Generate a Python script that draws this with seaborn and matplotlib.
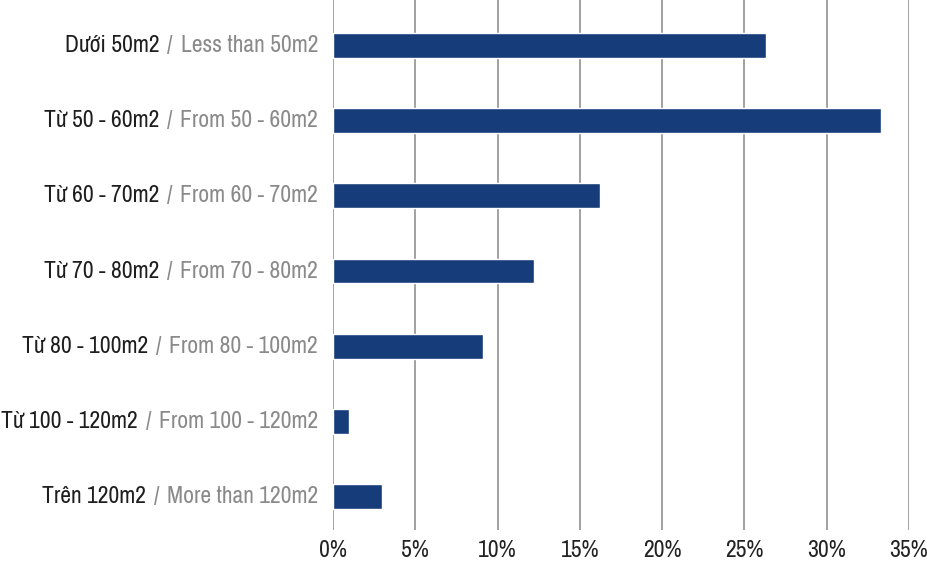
import matplotlib
matplotlib.use("Agg")
import matplotlib.pyplot as plt
import seaborn as sns
import pandas as pd

vi_labels = ["Dưới 50m2", "Từ 50 - 60m2", "Từ 60 - 70m2", "Từ 70 - 80m2",
             "Từ 80 - 100m2", "Từ 100 - 120m2", "Trên 120m2"]
en_labels = ["Less than 50m2", "From 50 - 60m2", "From 60 - 70m2", "From 70 - 80m2",
             "From 80 - 100m2", "From 100 - 120m2", "More than 120m2"]
shares = [26.3, 33.3, 16.2, 12.2, 9.1, 1.0, 3.0]
x_ticks = [0, 5, 10, 15, 20, 25, 30, 35]

sns.set_theme(style="white")
plt.rcParams["font.family"] = ["Archivo Narrow", "Liberation Sans Narrow", "DejaVu Sans"]

df = pd.DataFrame({"cat": vi_labels, "share": shares})

fig = plt.figure(figsize=(9.27, 5.68), dpi=100)
ax = fig.add_axes([333 / 927, 1 - 530 / 568, (909 - 333) / 927, 530 / 568])

sns.barplot(data=df, y="cat", x="share", orient="h", color="#173c7a",
            saturation=1, width=0.33, ax=ax, zorder=3)

ax.set_xlim(0, 35)
ax.set_ylim(6.44, -0.6)
ax.set_xticks(x_ticks)
ax.set_xticklabels([f"{t}%" for t in x_ticks], fontsize=17, color="#222222")
ax.tick_params(axis="x", length=0, pad=7)
ax.grid(axis="x", color="#9a9a9a", linewidth=1.3, zorder=0)
ax.grid(axis="y", visible=False)
for s in ax.spines.values():
    s.set_visible(False)
ax.set_xlabel("")
ax.set_ylabel("")
ax.set_yticks(range(len(vi_labels)))
ax.set_yticklabels([""] * len(vi_labels))
ax.tick_params(axis="y", length=0)

# two-tone category labels: Vietnamese in dark, English in gray
for i, (vi, en) in enumerate(zip(vi_labels, en_labels)):
    t_en = ax.annotate(en, xy=(0, i), xycoords=("axes fraction", "data"),
                       xytext=(-15, 0), textcoords="offset pixels",
                       ha="right", va="center", fontsize=17, color="#8a8a8a")
    t_sl = ax.annotate("/", xy=(0, 0.5), xycoords=t_en,
                       xytext=(-8, 0), textcoords="offset pixels",
                       ha="right", va="center", fontsize=17, color="#8a8a8a")
    ax.annotate(vi, xy=(0, 0.5), xycoords=t_sl,
                xytext=(-8, 0), textcoords="offset pixels",
                ha="right", va="center", fontsize=17, color="#1e1e1e")

fig.savefig("out.png", dpi=100)
